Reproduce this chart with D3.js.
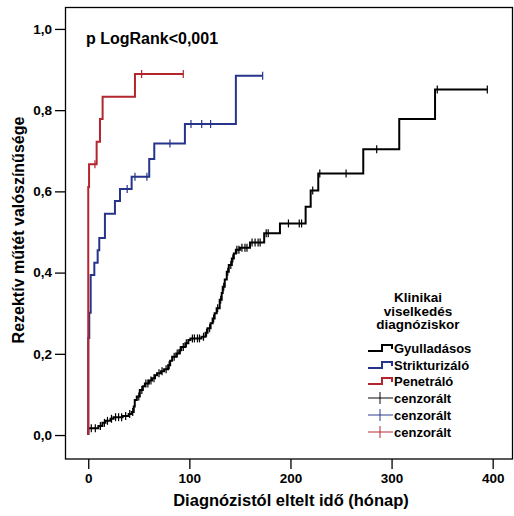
<!DOCTYPE html>
<html>
<head>
<meta charset="utf-8">
<script src="https://cdn.jsdelivr.net/npm/d3@7"></script>
<style>
  body { margin: 0; background: #fff; }
  svg text { font-family: "Liberation Sans", Arial, sans-serif; font-weight: bold; fill: #000; }
</style>
</head>
<body>
<svg id="chart" width="514" height="516"></svg>
<script>
// event steps: [month, cumulative probability]
var gyulladasosEvents = [[0,0.017],[10,0.022],[14,0.03],[17,0.035],[22,0.04],[25,0.044],[34,0.047],[40,0.052],
  [43,0.057],[45,0.07],[46,0.086],[48,0.095],[51,0.111],[54,0.12],[56,0.127],[60,0.134],[63,0.14],[66,0.147],
  [68,0.152],[72,0.157],[75,0.162],[79,0.172],[81,0.183],[83,0.193],[87,0.201],[90,0.209],[92,0.217],[96,0.226],
  [99,0.234],[101,0.238],[112,0.242],[116,0.252],[118,0.263],[121,0.275],[123,0.287],[125,0.3],[127,0.312],
  [130,0.333],[132,0.35],[133,0.365],[135,0.383],[137,0.402],[139,0.419],[142,0.435],[144,0.447],[146,0.456],
  [150,0.461],[160,0.474],[174,0.497],[189.6,0.521],[215,0.562],[220,0.602],[227.5,0.644],[272,0.704],
  [307.6,0.778],[343,0.851]];
var gyulladasosCensored = [3,7,12,16,19,23,27,30,33,37,41,44,50,53,57,59,62,65,70,73,77,80,85,88,91,94,97,
  103,105,108,110,114,117,120,124,128,131,134,138,141,143,147,149,152,155,157,162,165,168,170,176,178,
  198,208.7,211,222,229,255,285.3,345.2,394.7];

var strikturizaloEvents = [[0,0.239],[1,0.301],[2.4,0.394],[6,0.424],[9.3,0.455],[10.9,0.485],[16.5,0.545],
  [26.4,0.576],[31.4,0.606],[42.9,0.636],[60.3,0.68],[65.3,0.718],[95.6,0.766],[146,0.885]];
var strikturizaloCensored = [38.5,46.2,58,80.8,101.6,112.2,121,172.5];

var penetraloEvents = [[0,0.611],[0.8,0.667],[8.3,0.722],[11.6,0.778],[14.2,0.833],[46.2,0.889]];
var penetraloCensored = [6.6,52.8,94];

var groups = ["Gyulladásos","Strikturizáló","Penetráló"];
var colors = ["#000000","#27348b","#b3262e"];
var xTicks = [0,100,200,300,400];
var yTicks = [0,0.2,0.4,0.6,0.8,1.0];

var series = [
  {name: groups[0], color: colors[0], events: gyulladasosEvents, cens: gyulladasosCensored},
  {name: groups[1], color: colors[1], events: strikturizaloEvents, cens: strikturizaloCensored},
  {name: groups[2], color: colors[2], events: penetraloEvents, cens: penetraloCensored}
];

var svg = d3.select("#chart");
var x = d3.scaleLinear().domain([-23, 420.1]).range([65, 513]);
var y = d3.scaleLinear().domain([-0.059, 1.054]).range([459, 7]);

// frame
svg.append("rect")
  .attr("x", 65.5).attr("y", 7.5)
  .attr("width", 447).attr("height", 451.5)
  .attr("fill", "none").attr("stroke", "#000").attr("stroke-width", 1.3);

// axes
var xAxis = svg.append("g").attr("transform", "translate(0,459)")
  .call(d3.axisBottom(x).tickValues(xTicks).tickSize(10).tickPadding(4).tickFormat(d3.format("d")));
var yAxis = svg.append("g").attr("transform", "translate(65,0)")
  .call(d3.axisLeft(y).tickValues(yTicks).tickSize(10).tickPadding(3)
    .tickFormat(function (d) { return d.toFixed(1).replace(".", ","); }));
[xAxis, yAxis].forEach(function (a) {
  a.select(".domain").remove();
  a.selectAll("line").attr("stroke", "#000").attr("stroke-width", 1.3);
  a.selectAll("text").attr("font-size", 13.5).attr("font-family", "Liberation Sans, Arial, sans-serif")
    .attr("font-weight", "bold").attr("fill", "#000");
});

// curves
function valueAt(events, t) {
  var p = 0;
  events.forEach(function (e) { if (e[0] <= t) p = e[1]; });
  return p;
}
var line = d3.line()
  .x(function (d) { return x(d[0]); })
  .y(function (d) { return y(d[1]); })
  .curve(d3.curveStepAfter);

series.forEach(function (s) {
  var end = d3.max(s.cens);
  var pts = [[0, 0]].concat(s.events).concat([[end, s.events[s.events.length - 1][1]]]);
  var g = svg.append("g");
  g.append("path")
    .attr("d", line(pts))
    .attr("fill", "none")
    .attr("stroke", s.color)
    .attr("stroke-width", 2);
  g.selectAll("line")
    .data(s.cens)
    .enter().append("line")
    .attr("x1", function (d) { return x(d); })
    .attr("x2", function (d) { return x(d); })
    .attr("y1", function (d) { return y(valueAt(s.events, d)) - 4; })
    .attr("y2", function (d) { return y(valueAt(s.events, d)) + 4; })
    .attr("stroke", s.color)
    .attr("stroke-width", 1.2);
});

// labels
svg.append("text").attr("x", 86).attr("y", 44).attr("font-size", 16).text("p LogRank<0,001");
svg.append("text").attr("x", 291).attr("y", 506).attr("text-anchor", "middle")
  .attr("font-size", 16.5).text("Diagnózistól eltelt idő (hónap)");
svg.append("text").attr("transform", "translate(24,230) rotate(-90)")
  .attr("text-anchor", "middle").attr("font-size", 16).text("Rezektív műtét valószínűsége");

// legend
var legTitle = ["Klinikai", "viselkedés", "diagnóziskor"];
svg.selectAll(".lt").data(legTitle).enter().append("text")
  .attr("x", 418).attr("y", function (d, i) { return 302 + i * 13.5; })
  .attr("text-anchor", "middle").attr("font-size", 13.5).text(function (d) { return d; });

var legItems = series.map(function (s) { return {label: s.name, color: s.color, type: "step"}; })
  .concat(series.map(function (s) { return {label: "cenzorált", color: s.color, type: "cens"}; }));
var legY = [348, 365, 381, 398, 415, 432];
legItems.forEach(function (it, i) {
  var yy = legY[i];
  var g = svg.append("g");
  if (it.type === "step") {
    g.append("path")
      .attr("d", "M368," + (yy + 3) + "H382V" + (yy - 3) + "H392V" + (yy + 1))
      .attr("fill", "none").attr("stroke", it.color).attr("stroke-width", 2);
  } else {
    g.append("line").attr("x1", 368).attr("x2", 393).attr("y1", yy).attr("y2", yy)
      .attr("stroke", it.color).attr("stroke-width", 1.2).attr("opacity", 0.8);
    g.append("line").attr("x1", 380).attr("x2", 380).attr("y1", yy - 6).attr("y2", yy + 6)
      .attr("stroke", it.color).attr("stroke-width", 1.2).attr("opacity", 0.8);
  }
  g.append("text").attr("x", 394).attr("y", yy + 4.5).attr("font-size", 13).text(it.label);
});
</script>
</body>
</html>
